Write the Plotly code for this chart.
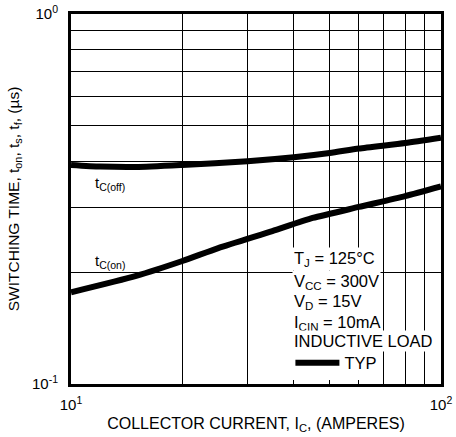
import plotly.graph_objects as go

# ---- data ----
ic_off = [10, 12, 15, 20, 30, 40, 50, 60, 80, 100]
tc_off = [0.391, 0.387, 0.386, 0.391, 0.400, 0.410, 0.421, 0.433, 0.448, 0.463]

ic_on = [10, 15, 20, 25, 35, 45, 60, 80, 100]
tc_on = [0.177, 0.196, 0.215, 0.233, 0.259, 0.281, 0.301, 0.322, 0.342]

x_major = [10, 100]
x_major_text = ["10<sup>1</sup>", "10<sup>2</sup>"]
x_minor = [20, 30, 40, 50, 60, 70, 80, 90]
y_major = [0.1, 1]
y_major_text = ["10<sup>-1</sup>", "10<sup>0</sup>"]
y_minor = [0.2, 0.3, 0.4, 0.5, 0.6, 0.7, 0.8, 0.9]

conditions = [
    "T<sub>J</sub> = 125°C",
    "V<sub>CC</sub> = 300V",
    "V<sub>D</sub> = 15V",
    "I<sub>CIN</sub> = 10mA",
    "INDUCTIVE LOAD",
]
cond_y = [0.339, 0.277, 0.221, 0.165, 0.117]

FONT = "Liberation Sans, Arial, sans-serif"

fig = go.Figure()
fig.add_trace(go.Scatter(x=ic_off, y=tc_off, mode="lines", name="TYP",
                         line=dict(color="black", width=6, shape="spline", smoothing=0.6),
                         showlegend=True))
fig.add_trace(go.Scatter(x=ic_on, y=tc_on, mode="lines", name="tc(on)",
                         line=dict(color="black", width=6, shape="spline", smoothing=0.6),
                         showlegend=False))

axis_common = dict(
    type="log", showgrid=True, gridcolor="black", gridwidth=1,
    showline=True, linecolor="black", linewidth=3, mirror=True,
    ticks="", zeroline=False, automargin=False, ticklabeloverflow="allow",
    tickfont=dict(family=FONT, size=15, color="black"),
)

fig.update_xaxes(
    **axis_common, range=[1, 2], tickmode="array", tickvals=x_major, ticktext=x_major_text,
    minor=dict(tickmode="array", tickvals=x_minor, showgrid=True, gridcolor="black", gridwidth=1, ticks=""),
    ticklabelstandoff=5,
    title=dict(text="COLLECTOR CURRENT, I<sub>C</sub>, (AMPERES)",
               font=dict(family=FONT, size=16, color="black"), standoff=6),
)
fig.update_yaxes(
    **axis_common, range=[-1, 0], tickmode="array", tickvals=y_major, ticktext=y_major_text,
    minor=dict(tickmode="array", tickvals=y_minor, showgrid=True, gridcolor="black", gridwidth=1, ticks=""),
    ticklabelstandoff=7,
    title=dict(text="SWITCHING TIME, t<sub>on</sub>, t<sub>s</sub>, t<sub>f</sub>, (µs)",
               font=dict(family=FONT, size=15.5, color="black"), standoff=9),
)

for txt, yy in zip(conditions, cond_y):
    fig.add_annotation(text=txt, xref="paper", yref="paper", x=0.597, y=yy,
                       xanchor="left", yanchor="middle", showarrow=False,
                       bgcolor="white", borderpad=1,
                       font=dict(family=FONT, size=16.5, color="black"))

fig.add_annotation(text="t<sub>C(off)</sub>", xref="paper", yref="paper", x=0.06, y=0.543,
                   xanchor="left", yanchor="middle", showarrow=False,
                   font=dict(family=FONT, size=15, color="black"))
fig.add_annotation(text="t<sub>C(on)</sub>", xref="paper", yref="paper", x=0.06, y=0.33,
                   xanchor="left", yanchor="middle", showarrow=False,
                   font=dict(family=FONT, size=15, color="black"))

fig.update_layout(
    width=456, height=437,
    margin=dict(l=71, r=15, t=14, b=53, autoexpand=False),
    paper_bgcolor="white", plot_bgcolor="white",
    legend=dict(x=0.593, y=0.057, xanchor="left", yanchor="middle",
                bgcolor="white", borderwidth=0, itemwidth=44,
                font=dict(family=FONT, size=16.5, color="black"),
                tracegroupgap=0),
)

fig.write_html("out.html", config={"displayModeBar": False},
               post_script="document.body.style.margin='0';document.body.style.overflow='hidden';")
